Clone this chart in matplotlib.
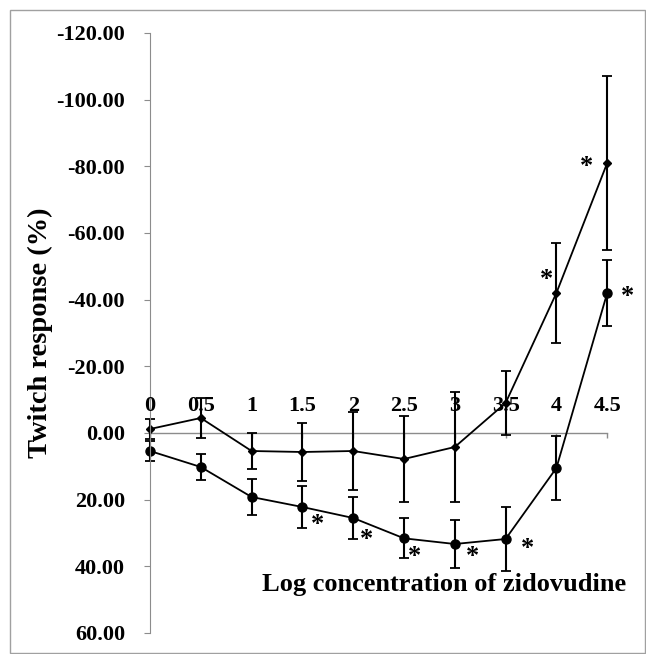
import matplotlib.pyplot as plt
from matplotlib.patches import Rectangle

# Log concentration categories
conc = [0, 0.5, 1, 1.5, 2, 2.5, 3, 3.5, 4, 4.5]
conc_labels = ['0', '0.5', '1', '1.5', '2', '2.5', '3', '3.5', '4', '4.5']

# upper series (diamonds)
resp_a = [-1.2, -4.5, 5.4, 5.7, 5.4, 7.8, 4.2, -9.0, -42.0, -81.0]
err_a = [3.0, 6.0, 5.5, 8.7, 11.8, 12.8, 16.6, 9.7, 15.0, 26.0]

# lower series (circles)
resp_b = [5.4, 10.2, 19.2, 22.2, 25.5, 31.6, 33.3, 31.8, 10.5, -42.0]
err_b = [3.0, 3.8, 5.5, 6.2, 6.4, 6.0, 7.2, 9.5, 9.5, 9.8]

# significance markers
star_x = [1.65, 2.13, 2.6, 3.17, 3.72, 3.9, 4.3, 4.7]
star_y = [27.5, 32.0, 37.0, 37.0, 34.5, -46.0, -80.0, -41.0]

yticks = [-120, -100, -80, -60, -40, -20, 0, 20, 40, 60]

plt.rcParams['font.family'] = ['Liberation Serif', 'DejaVu Serif']

fig = plt.figure(figsize=(6.46, 6.54), dpi=100)
ax = fig.add_axes([150 / 646, 21 / 654, 4.8 * 101.6 / 646, 600 / 654])

grey = '#8c8c8c'

ax.errorbar(conc, resp_a, yerr=err_a, color='black', marker='D', markersize=4,
            linewidth=1.3, elinewidth=1.5, capsize=3.5, capthick=1.3, clip_on=False)
ax.errorbar(conc, resp_b, yerr=err_b, color='black', marker='o', markersize=6.5,
            linewidth=1.3, elinewidth=1.5, capsize=3.5, capthick=1.3, clip_on=False)

for sx, sy in zip(star_x, star_y):
    ax.text(sx, sy, '*', fontsize=19, fontweight='bold', ha='center', va='center')

# x axis drawn through zero with labels above it
ax.plot([0, 4.5], [0, 0], color=grey, linewidth=1, zorder=0)
ax.vlines(conc, 0, 1.5, color=grey, linewidth=1, zorder=0)
for c, lab in zip(conc, conc_labels):
    ax.text(c, -8, lab, fontsize=16, fontweight='bold', ha='center', va='center')

ax.set_xlim(0, 4.8)
ax.set_ylim(60, -120)
ax.set_yticks(yticks)
ax.set_yticklabels(['%.2f' % v for v in yticks], fontsize=16, fontweight='bold')
ax.tick_params(axis='y', direction='out', length=4, color=grey, pad=14)
ax.set_xticks([])
for s in ['top', 'right', 'bottom']:
    ax.spines[s].set_visible(False)
ax.spines['left'].set_color(grey)
ax.patch.set_visible(False)

ax.set_ylabel('Twitch response (%)', fontsize=20.5, fontweight='bold', labelpad=2)
fig.text(444 / 646, 1 - 585 / 654, 'Log concentration of zidovudine', fontsize=19,
         fontweight='bold', ha='center', va='center')

fig.patches.append(Rectangle((10 / 646, 1 / 654), 635 / 646, 643 / 654, transform=fig.transFigure,
                             fill=False, edgecolor='#a0a0a0', linewidth=1))

plt.savefig('out.png', dpi=100)
